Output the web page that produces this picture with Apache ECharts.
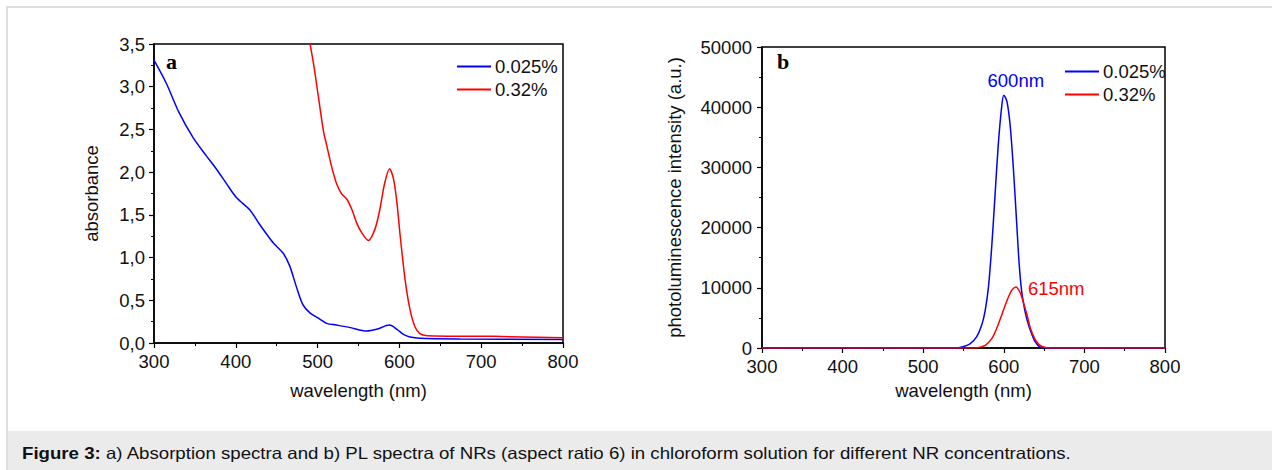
<!DOCTYPE html>
<html>
<head>
<meta charset="utf-8">
<script src="https://cdn.jsdelivr.net/npm/echarts@6/dist/echarts.min.js"></script>
<style>
  html, body { margin: 0; padding: 0; background: #fff; }
  #wrap { position: relative; width: 1272px; height: 470px; overflow: hidden; }
  #frame { position: absolute; left: 6px; top: 6px; right: -4px; bottom: -4px; border-left: 2px solid #dedede; border-top: 2px solid #dedede; }
  #capband { position: absolute; left: 8px; top: 431px; width: 1264px; height: 39px; background: #ebebeb; }
  #caption { position: absolute; left: 22px; top: 444px; font-family: "Liberation Sans", Arial, sans-serif; font-size: 16.5px; color: #111; white-space: nowrap; transform: scaleX(1.13); transform-origin: 0 0; }
  #chart { position: absolute; left: 0; top: 0; width: 1272px; height: 430px; }
</style>
</head>
<body>
<div id="wrap">
  <div id="frame"></div>
  <div id="capband"></div>
  <div id="caption"><b>Figure 3:</b> a) Absorption spectra and b) PL spectra of NRs (aspect ratio 6) in chloroform solution for different NR concentrations.</div>
  <div id="chart"></div>
</div>
<script>
// ---- Data ----
const seriesNames = ['0.025%', '0.32%'];

// Panel a: absorbance
const absLowX  = [300, 315, 331, 348, 364, 376, 389, 401, 417, 429, 438, 446, 458, 466, 474, 482, 491, 501, 511, 523, 540, 560, 572, 588, 597, 605, 613, 625, 674, 800];
const absLowY  = [3.31, 3.04, 2.69, 2.40, 2.19, 2.04, 1.86, 1.70, 1.56, 1.39, 1.27, 1.17, 1.05, 0.90, 0.66, 0.45, 0.35, 0.29, 0.23, 0.21, 0.18, 0.14, 0.16, 0.21, 0.16, 0.10, 0.07, 0.055, 0.047, 0.04];
const absHighX = [487, 495, 501, 507, 511, 517, 523, 529, 536, 542, 548, 554, 562, 570, 576, 582, 588, 593, 597, 601, 607, 613, 619, 625, 634, 715, 800];
const absHighY = [3.70, 3.27, 2.88, 2.49, 2.32, 2.07, 1.87, 1.75, 1.68, 1.56, 1.40, 1.29, 1.20, 1.33, 1.56, 1.87, 2.04, 1.91, 1.64, 1.25, 0.74, 0.39, 0.19, 0.11, 0.086, 0.078, 0.06];

// Panel b: photoluminescence
const plLowX  = [300, 540, 548, 558, 566, 573, 577, 581, 585, 589, 593, 597, 600, 604, 608, 612, 616, 619, 622, 626, 629, 633, 639, 645, 655, 800];
const plLowY  = [0, 0, 170, 700, 1800, 4000, 6300, 10200, 16800, 25100, 33500, 39600, 42000, 40900, 36800, 29600, 20700, 14100, 9600, 6300, 4600, 2900, 1000, 170, 0, 0];
const plHighX = [300, 560, 567, 577, 585, 591, 598, 604, 610, 615, 620, 624, 629, 633, 639, 645, 653, 662, 800];
const plHighY = [0, 0, 50, 450, 1550, 3200, 5700, 7900, 9600, 10150, 9300, 7700, 5400, 3300, 1400, 450, 60, 0, 0];

const peakLabels = [{ x: 600, y: 42000, text: '600nm' }, { x: 615, y: 10150, text: '615nm' }];

// ---- Build ----
const zip = (xs, ys) => xs.map((x, i) => [x, ys[i]]);
const BLUE = '#0000ff', RED = '#ff0000';
const FONT = '"Liberation Sans", Arial, sans-serif';
const FS = 18.5;
const lbl = { fontFamily: FONT, fontSize: FS, color: '#111' };

function xAx(gi) {
  return {
    type: 'value', gridIndex: gi, min: 300, max: 800, interval: 100,
    name: 'wavelength (nm)', nameLocation: 'middle', nameGap: gi === 0 ? 38 : 33,
    nameTextStyle: { fontFamily: FONT, fontSize: FS, color: '#111' },
    axisLine: { lineStyle: { color: '#000', width: 1.5 } },
    axisTick: { length: 5, lineStyle: { color: '#000', width: 1.2 } },
    minorTick: { show: true, splitNumber: 2, length: 3, lineStyle: { color: '#000', width: 1 } },
    axisLabel: Object.assign({ margin: 9 }, lbl),
    splitLine: { show: false }
  };
}

function legendAt(left, top) {
  return {
    left: left, top: top, orient: 'vertical', icon: 'rect', itemWidth: 34, itemHeight: 2, itemGap: 4,
    data: seriesNames, textStyle: { fontFamily: FONT, fontSize: FS, color: '#111', padding: [0, 0, 0, -1] },
    selectedMode: false
  };
}

const option = {
  animation: false,
  grid: [
    { left: 154, top: 44, width: 409, height: 299, show: true, borderColor: '#000', borderWidth: 1.5, backgroundColor: 'transparent' },
    { left: 762, top: 47, width: 403, height: 301, show: true, borderColor: '#000', borderWidth: 1.5, backgroundColor: 'transparent' }
  ],
  xAxis: [xAx(0), xAx(1)],
  yAxis: [
    {
      type: 'value', gridIndex: 0, min: 0, max: 3.5, interval: 0.5,
      name: 'absorbance', nameLocation: 'middle', nameGap: 53,
      nameTextStyle: { fontFamily: FONT, fontSize: FS, color: '#111' },
      axisLine: { show: true, lineStyle: { color: '#000', width: 1.5 } },
      axisTick: { show: true, length: 5, lineStyle: { color: '#000', width: 1.2 } },
      minorTick: { show: true, splitNumber: 2, length: 3, lineStyle: { color: '#000', width: 1 } },
      axisLabel: Object.assign({ margin: 9, formatter: v => v.toFixed(1).replace('.', ',') }, lbl),
      splitLine: { show: false }
    },
    {
      type: 'value', gridIndex: 1, min: 0, max: 50000, interval: 10000,
      name: 'photoluminescence intensity (a.u.)', nameLocation: 'middle', nameGap: 78,
      nameTextStyle: { fontFamily: FONT, fontSize: FS, color: '#111' },
      axisLine: { show: true, lineStyle: { color: '#000', width: 1.5 } },
      axisTick: { show: true, length: 5, lineStyle: { color: '#000', width: 1.2 } },
      minorTick: { show: true, splitNumber: 2, length: 3, lineStyle: { color: '#000', width: 1 } },
      axisLabel: Object.assign({ margin: 10, formatter: v => String(v) }, lbl),
      splitLine: { show: false }
    }
  ],
  legend: [legendAt(452, 52), legendAt(1060, 57)],
  graphic: [
    { type: 'text', left: 166, top: 50, style: { text: 'a', fontFamily: '"Liberation Serif", "DejaVu Serif", serif', fontWeight: 'bold', fontSize: 22, fill: '#000' } },
    { type: 'text', left: 777, top: 50, style: { text: 'b', fontFamily: '"Liberation Serif", "DejaVu Serif", serif', fontWeight: 'bold', fontSize: 22, fill: '#000' } }
  ],
  series: [
    { name: seriesNames[0], type: 'line', xAxisIndex: 0, yAxisIndex: 0, data: zip(absLowX, absLowY), symbol: 'none', smooth: 0.3, clip: true, lineStyle: { color: BLUE, width: 1.5 }, itemStyle: { color: BLUE } },
    { name: seriesNames[1], type: 'line', xAxisIndex: 0, yAxisIndex: 0, data: zip(absHighX, absHighY), symbol: 'none', smooth: 0.3, clip: true, lineStyle: { color: RED, width: 1.5 }, itemStyle: { color: RED } },
    {
      name: seriesNames[0], type: 'line', xAxisIndex: 1, yAxisIndex: 1, data: zip(plLowX, plLowY), symbol: 'none', smooth: 0.3, clip: true, lineStyle: { color: BLUE, width: 1.5 }, itemStyle: { color: BLUE },
      markPoint: { symbol: 'circle', symbolSize: 0, data: [{ coord: [peakLabels[0].x, peakLabels[0].y], value: peakLabels[0].text }],
        label: { show: true, formatter: peakLabels[0].text, offset: [12, -15], fontFamily: FONT, fontSize: FS, color: BLUE } }
    },
    {
      name: seriesNames[1], type: 'line', xAxisIndex: 1, yAxisIndex: 1, data: zip(plHighX, plHighY), symbol: 'none', smooth: 0.3, clip: true, lineStyle: { color: RED, width: 1.5 }, itemStyle: { color: RED },
      markPoint: { symbol: 'circle', symbolSize: 0, data: [{ coord: [peakLabels[1].x, peakLabels[1].y], value: peakLabels[1].text }],
        label: { show: true, formatter: peakLabels[1].text, position: 'right', offset: [7, 2], fontFamily: FONT, fontSize: FS, color: RED } }
    }
  ]
};

const chart = echarts.init(document.getElementById('chart'), null, { renderer: 'svg' });
chart.setOption(option);
</script>
</body>
</html>
